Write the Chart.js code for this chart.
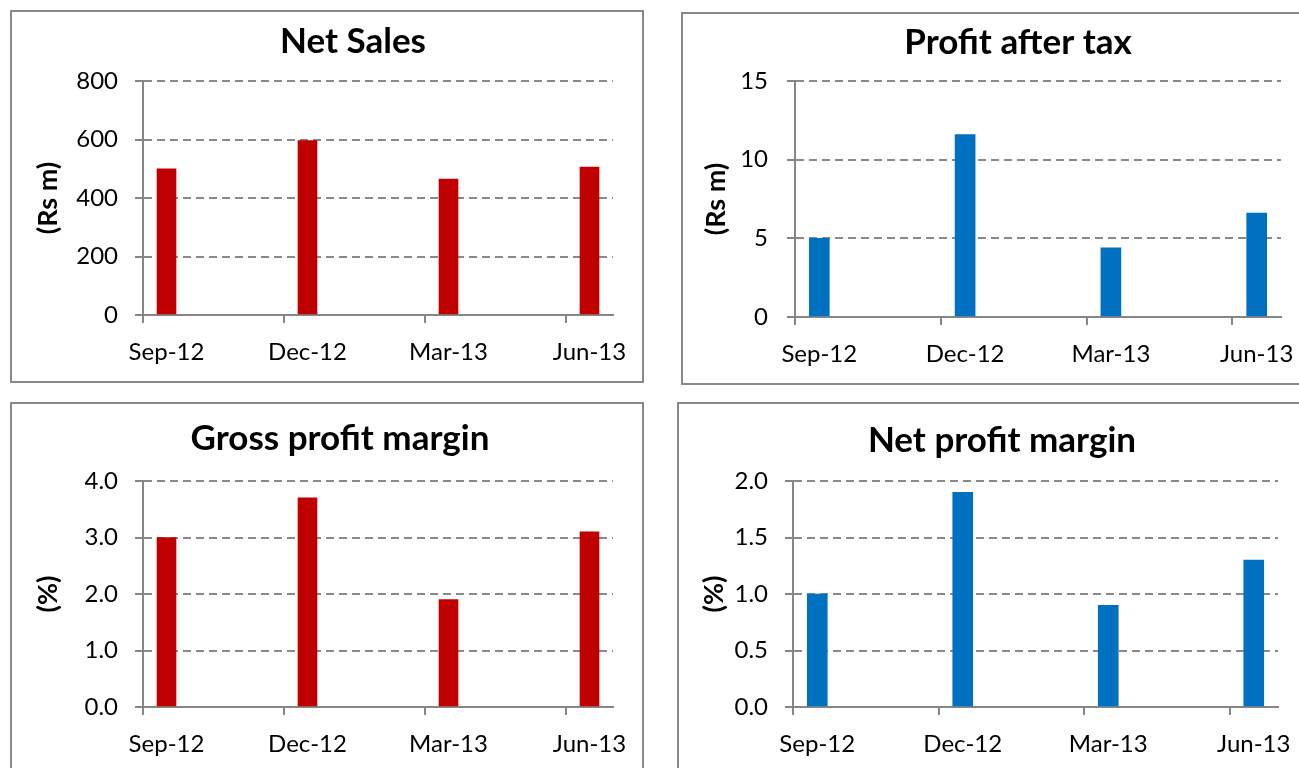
<!DOCTYPE html>
<html>
<head>
<meta charset="utf-8">
<script src="https://cdn.jsdelivr.net/npm/chart.js@4.4.1/dist/chart.umd.min.js"></script>
<style>
html,body{margin:0;padding:0;background:#fff;overflow:hidden;width:1299px;height:768px;}
.panel{position:absolute;box-sizing:border-box;border:2px solid #898989;background:#fff;}
canvas{position:absolute;}
</style>
</head>
<body>
<div class="panel" style="left:10px;top:10px;width:634px;height:373px"></div>
<div class="panel" style="left:681px;top:12px;width:700px;height:373px"></div>
<div class="panel" style="left:10px;top:402px;width:634px;height:420px"></div>
<div class="panel" style="left:677px;top:402px;width:700px;height:420px"></div>
<canvas id="c1" width="630" height="369" style="left:12px;top:12px"></canvas>
<canvas id="c2" width="616" height="369" style="left:683px;top:14px"></canvas>
<canvas id="c3" width="630" height="364" style="left:12px;top:404px"></canvas>
<canvas id="c4" width="620" height="364" style="left:679px;top:404px"></canvas>
<script>
// ---- data ----
const quarters = ['Sep-12', 'Dec-12', 'Mar-13', 'Jun-13'];
const netSales = [500, 596, 465, 506];
const profitAfterTax = [5.0, 11.6, 4.4, 6.6];
const grossProfitMargin = [3.0, 3.7, 1.9, 3.1];
const netProfitMargin = [1.0, 1.9, 0.9, 1.3];
const salesTicks = [0, 200, 400, 600, 800];
const patTicks = [0, 5, 10, 15];
const gpmTicks = [0, 1, 2, 3, 4];
const npmTicks = [0, 0.5, 1, 1.5, 2];

// ---- style ----
const AXIS = '#868686', GRID = '#8a8a8a';
const RED = '#C00000', BLUE = '#0070C0';
const FONT = 'Lato, "Open Sans", sans-serif';
const MONTHS_PER_Q = 3;
const X_MAX = (quarters.length - 1) * MONTHS_PER_Q + 1;

const titleX = {
  id: 'titleX',
  afterLayout(chart, args, o) {
    const t = chart.titleBlock;
    if (!t || o.x == null) return;
    const half = Math.min(o.x, chart.width - o.x);
    t.left = o.x - half; t.right = o.x + half; t.width = 2 * half;
  }
};

function makeChart(id, title, yTitle, values, yTicks, decimals, color, L) {
  const tFont = 35, tLH = tFont * 1.2;
  const yTFont = 27, yTLH = yTFont * 1.2;
  const tickFont = 24;
  const canvas = document.getElementById(id);
  const W = canvas.width, H = canvas.height;
  const padTop = L.titleY - tLH / 2;
  const halfMonth = (L.right - L.left) / X_MAX / 2;
  return new Chart(canvas, {
    type: 'bar',
    data: {
      datasets: [{
        data: values.map((v, i) => ({ x: i * MONTHS_PER_Q + 0.5, y: v })),
        backgroundColor: color,
        borderWidth: 0,
        barThickness: L.bar
      }]
    },
    options: {
      responsive: false,
      animation: false,
      devicePixelRatio: 1,
      layout: { padding: { left: 0, top: 0, bottom: 0, right: W - L.right } },
      plugins: {
        legend: { display: false },
        tooltip: { enabled: false },
        title: {
          display: true, text: title, color: '#000',
          font: { family: FONT, size: tFont, weight: 'bold', lineHeight: 1.2 },
          padding: { top: padTop, bottom: L.top - padTop - tLH }
        },
        titleX: { x: L.titleX }
      },
      scales: {
        x: {
          type: 'linear', min: 0, max: X_MAX, offset: false,
          afterBuildTicks: s => { s.ticks = quarters.map((q, i) => ({ value: i * MONTHS_PER_Q })); },
          afterFit: s => { s.height = H - L.bottom; },
          grid: { offset: false, drawOnChartArea: false, drawTicks: true, tickLength: 8, tickWidth: 2, tickColor: AXIS, color: AXIS, lineWidth: 2 },
          border: { display: true, color: AXIS, width: 2 },
          ticks: {
            autoSkip: false, maxRotation: 0, minRotation: 0, padding: 15, labelOffset: halfMonth,
            color: '#000', font: { family: FONT, size: tickFont },
            callback: (v, i) => quarters[i]
          }
        },
        y: {
          min: yTicks[0], max: yTicks[yTicks.length - 1],
          afterBuildTicks: s => { s.ticks = yTicks.map(v => ({ value: v })); },
          afterFit: s => { s.width = L.left; },
          grid: { color: GRID, lineWidth: 2, drawTicks: true, tickLength: 8, tickWidth: 2, tickColor: AXIS },
          border: { display: true, color: AXIS, width: 2, dash: [8, 5] },
          ticks: {
            padding: L.yPad, color: '#000', font: { family: FONT, size: tickFont },
            callback: v => Number(v).toFixed(decimals)
          },
          title: {
            display: true, text: yTitle, color: '#000',
            font: { family: FONT, size: yTFont, weight: 'bold', lineHeight: 1.2 },
            padding: { top: L.yTitleX - yTLH / 2, bottom: 0 }
          }
        }
      }
    },
    plugins: [titleX]
  });
}

makeChart('c1', 'Net Sales', '(Rs m)', netSales, salesTicks, 0, RED,
  { left: 131, right: 601, top: 69, bottom: 303, titleX: 341, titleY: 30, yTitleX: 36, yPad: 17, bar: 19 });
makeChart('c2', 'Profit after tax', '(Rs m)', profitAfterTax, patTicks, 0, BLUE,
  { left: 112, right: 598, top: 67, bottom: 303, titleX: 335, titleY: 28.5, yTitleX: 33, yPad: 19, bar: 20 });
makeChart('c3', 'Gross profit margin', '(%)', grossProfitMargin, gpmTicks, 1, RED,
  { left: 131, right: 601, top: 77, bottom: 303, titleX: 328, titleY: 35, yTitleX: 36, yPad: 17, bar: 19 });
makeChart('c4', 'Net profit margin', '(%)', netProfitMargin, npmTicks, 1, BLUE,
  { left: 114, right: 599, top: 77, bottom: 303, titleX: 323, titleY: 37, yTitleX: 35, yPad: 17, bar: 20 });
</script>
</body>
</html>
